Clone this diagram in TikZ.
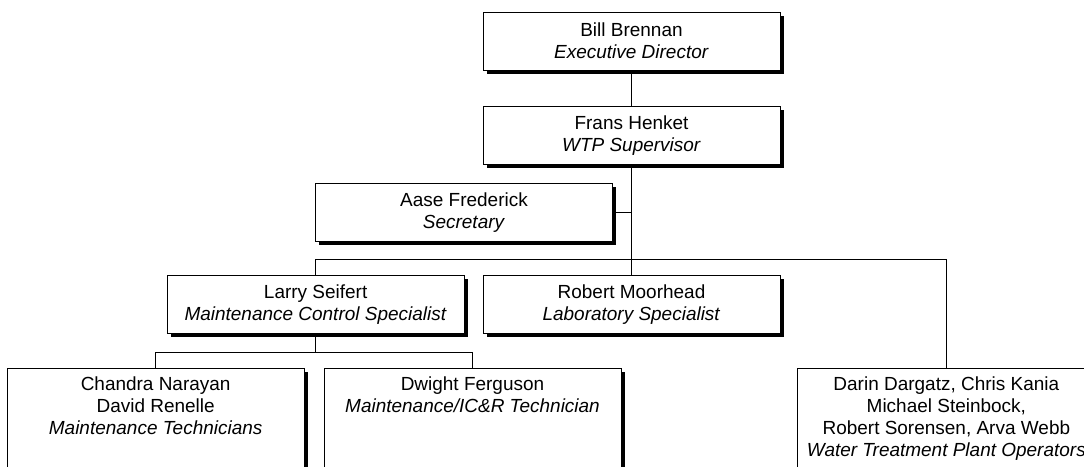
\documentclass[tikz,border=0pt]{standalone}
\usepackage{fontspec}
\setmainfont{Liberation Sans}
\usepackage{tikz}
\usetikzlibrary{positioning,shadows}
\newcommand{\orgfont}{\fontsize{13.5pt}{15.6pt}\selectfont}
\tikzset{
  box/.style={rectangle, draw, fill=white, line width=0.6pt, minimum width=7.425cm, minimum height=1.45cm,
              inner sep=2pt, align=center, font=\orgfont,
              drop shadow={shadow xshift=0.09cm, shadow yshift=-0.09cm, fill=black, opacity=1}},
  tallbox/.style={box, text depth=4cm, inner ysep=0.2cm},
  link/.style={line width=0.6pt},
  trunk/.style={line width=1.1pt},
}
\begin{document}
\begin{tikzpicture}
\useasboundingbox (0,0) rectangle (27.1,-11.65);
\clip (0,0) rectangle (27.1,-11.65);
%Nodes
\node[box] (bill) at (15.7875,-1.025) {Bill Brennan\\\textit{Executive Director}};
\node[box] (frans) [below=0.9cm of bill] {Frans Henket\\\textit{WTP Supervisor}};
\node[box] (aase) [below=0.45cm of frans, xshift=-4.1875cm] {Aase Frederick\\\textit{Secretary}};
\node[box] (robert) [below=2.75cm of frans] {Robert Moorhead\\\textit{Laboratory Specialist}};
\node[box] (larry) [left=0.45cm of robert] {Larry Seifert\\\textit{Maintenance Control Specialist}};
\node[tallbox] (chandra) [below=0.85cm of larry, xshift=-4cm] {Chandra Narayan\\David Renelle\\\textit{Maintenance Technicians}};
\node[tallbox] (dwight) [right=0.475cm of chandra.north east, anchor=north west] {Dwight Ferguson\\\textit{Maintenance/IC\&R Technician}};
\node[tallbox] (darin) [right=4.4cm of dwight.north east, anchor=north west] {Darin Dargatz, Chris Kania\\Michael Steinbock,\\Robert Sorensen, Arva Webb\\\textit{Water Treatment Plant Operators}};

%Lines
\draw[link] (bill.south) -- (frans.north);
\draw[trunk] (frans.south) -- (robert.north);
\draw[link] (aase.east) -- (aase.east -| frans.south);
\draw[link] (larry.north) -- ++(0,0.4) -| (darin.north);
\draw[link] (larry.south) -- ++(0,-0.46) coordinate (split);
\draw[link] (chandra.north) |- (split) -| (dwight.north);
\end{tikzpicture}
\end{document}
